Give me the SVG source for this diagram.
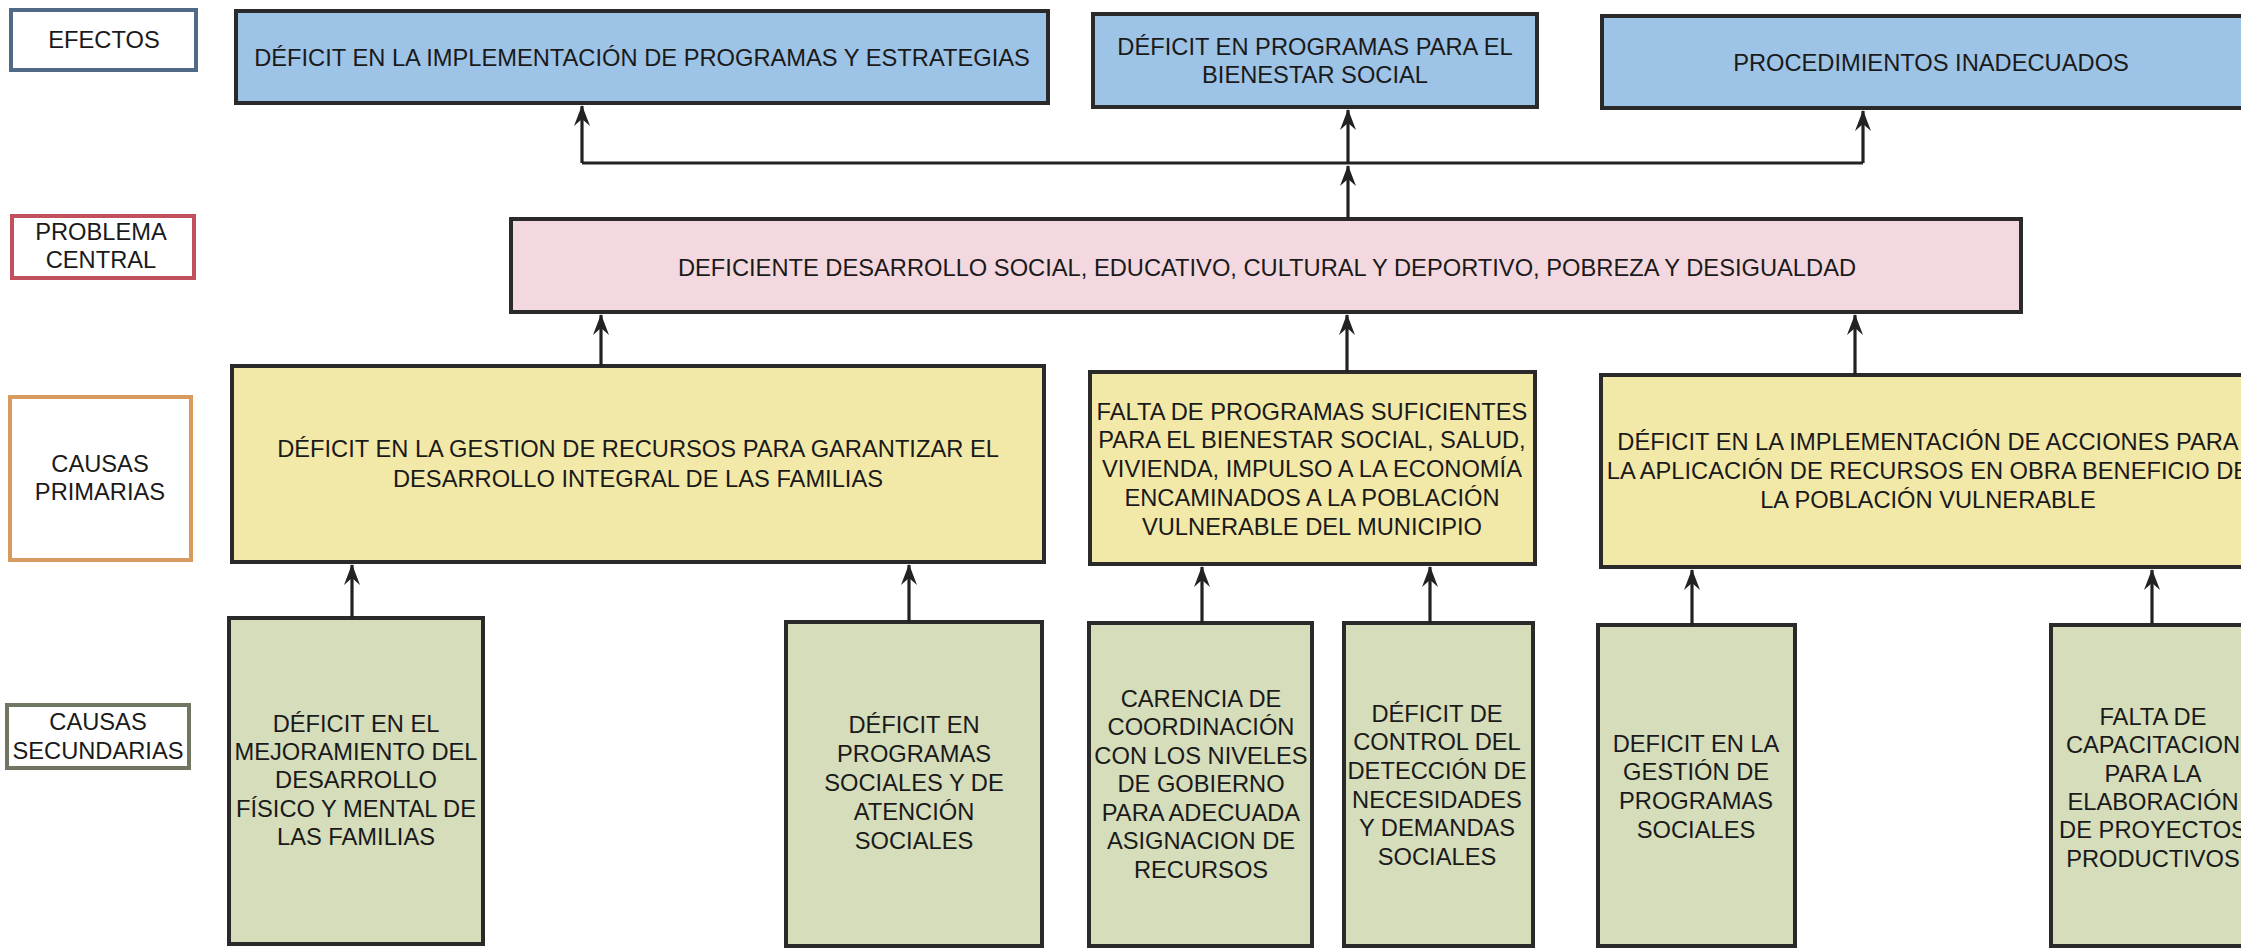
<svg xmlns="http://www.w3.org/2000/svg" width="2241" height="948" viewBox="0 0 2241 948">
<defs>
<style>
text{font-family:"Liberation Sans",Arial,sans-serif;font-size:23.7px;fill:#1a1a1a;text-anchor:middle}
.box{stroke:#2a2a2a;stroke-width:4}
.ef{fill:#9dc3e6}
.pc{fill:#f4d8df}
.pr{fill:#f2e9a9}
.se{fill:#d5ddba}
.lab{fill:#ffffff;stroke-width:4}
.conn{fill:none;stroke:#222;stroke-width:3.2}
</style>
<marker id="ah" markerUnits="userSpaceOnUse" viewBox="-24 -10 26 20" refX="0" refY="0" markerWidth="26" markerHeight="20" orient="auto">
<path d="M1,0 L-20,-8 L-13,0 L-20,8 Z" fill="#222"/>
</marker>
</defs>
<rect width="2241" height="948" fill="#ffffff"/>

<g id="label-efectos">
<rect class="lab" x="11" y="10" width="185" height="60" stroke="#4f6986"/>
<text x="104" y="48">EFECTOS</text>
</g>
<g id="label-problema">
<rect class="lab" x="12" y="216" width="182" height="62" stroke="#c24f5c"/>
<text x="101" y="240">PROBLEMA</text>
<text x="101" y="268">CENTRAL</text>
</g>
<g id="label-primarias">
<rect class="lab" x="10" y="397" width="181" height="163" stroke="#d89a5e"/>
<text x="100" y="472">CAUSAS</text>
<text x="100" y="500">PRIMARIAS</text>
</g>
<g id="label-secundarias">
<rect class="lab" x="7" y="705" width="182" height="63" stroke="#6f7662"/>
<text x="98" y="730">CAUSAS</text>
<text x="98" y="759">SECUNDARIAS</text>
</g>

<g id="efecto-1">
<rect class="box ef" x="236" y="11" width="812" height="92"/>
<text x="642" y="66">DÉFICIT EN LA IMPLEMENTACIÓN DE PROGRAMAS Y ESTRATEGIAS</text>
</g>
<g id="efecto-2">
<rect class="box ef" x="1093" y="14" width="444" height="93"/>
<text x="1315" y="55">DÉFICIT EN PROGRAMAS PARA EL</text>
<text x="1315" y="83">BIENESTAR SOCIAL</text>
</g>
<g id="efecto-3">
<rect class="box ef" x="1602" y="16" width="660" height="92"/>
<text x="1931" y="71">PROCEDIMIENTOS INADECUADOS</text>
</g>

<g id="problema-central">
<rect class="box pc" x="511" y="219" width="1510" height="93"/>
<text x="1267" y="276">DEFICIENTE DESARROLLO SOCIAL, EDUCATIVO, CULTURAL Y DEPORTIVO, POBREZA Y DESIGUALDAD</text>
</g>

<g id="causa-primaria-1">
<rect class="box pr" x="232" y="366" width="812" height="196"/>
<text x="638" y="457">DÉFICIT EN LA GESTION DE RECURSOS PARA GARANTIZAR EL</text>
<text x="638" y="487">DESARROLLO INTEGRAL DE LAS FAMILIAS</text>
</g>
<g id="causa-primaria-2">
<rect class="box pr" x="1090" y="372" width="445" height="192"/>
<text x="1312" y="420">FALTA DE PROGRAMAS SUFICIENTES</text>
<text x="1312" y="448">PARA EL BIENESTAR SOCIAL, SALUD,</text>
<text x="1312" y="477">VIVIENDA, IMPULSO A LA ECONOMÍA</text>
<text x="1312" y="506">ENCAMINADOS A LA POBLACIÓN</text>
<text x="1312" y="535">VULNERABLE DEL MUNICIPIO</text>
</g>
<g id="causa-primaria-3">
<rect class="box pr" x="1601" y="375" width="660" height="192"/>
<text x="1928" y="450">DÉFICIT EN LA IMPLEMENTACIÓN DE ACCIONES PARA</text>
<text x="1928" y="479">LA APLICACIÓN DE RECURSOS EN OBRA BENEFICIO DE</text>
<text x="1928" y="508">LA POBLACIÓN VULNERABLE</text>
</g>

<g id="causa-secundaria-1">
<rect class="box se" x="229" y="618" width="254" height="326"/>
<text x="356" y="732">DÉFICIT EN EL</text>
<text x="356" y="760">MEJORAMIENTO DEL</text>
<text x="356" y="788">DESARROLLO</text>
<text x="356" y="817">FÍSICO Y MENTAL DE</text>
<text x="356" y="845">LAS FAMILIAS</text>
</g>
<g id="causa-secundaria-2">
<rect class="box se" x="786" y="622" width="256" height="324"/>
<text x="914" y="733">DÉFICIT EN</text>
<text x="914" y="762">PROGRAMAS</text>
<text x="914" y="791">SOCIALES Y DE</text>
<text x="914" y="820">ATENCIÓN</text>
<text x="914" y="849">SOCIALES</text>
</g>
<g id="causa-secundaria-3">
<rect class="box se" x="1089" y="623" width="223" height="323"/>
<text x="1201" y="707">CARENCIA DE</text>
<text x="1201" y="735">COORDINACIÓN</text>
<text x="1201" y="764">CON LOS NIVELES</text>
<text x="1201" y="792">DE GOBIERNO</text>
<text x="1201" y="821">PARA ADECUADA</text>
<text x="1201" y="849">ASIGNACION DE</text>
<text x="1201" y="878">RECURSOS</text>
</g>
<g id="causa-secundaria-4">
<rect class="box se" x="1344" y="623" width="189" height="323"/>
<text x="1437" y="722">DÉFICIT DE</text>
<text x="1437" y="750">CONTROL DEL</text>
<text x="1437" y="779">DETECCIÓN DE</text>
<text x="1437" y="808">NECESIDADES</text>
<text x="1437" y="836">Y DEMANDAS</text>
<text x="1437" y="865">SOCIALES</text>
</g>
<g id="causa-secundaria-5">
<rect class="box se" x="1598" y="625" width="197" height="321"/>
<text x="1696" y="752">DEFICIT EN LA</text>
<text x="1696" y="780">GESTIÓN DE</text>
<text x="1696" y="809">PROGRAMAS</text>
<text x="1696" y="838">SOCIALES</text>
</g>
<g id="causa-secundaria-6">
<rect class="box se" x="2051" y="625" width="210" height="321"/>
<text x="2153" y="725">FALTA DE</text>
<text x="2153" y="753">CAPACITACION</text>
<text x="2153" y="782">PARA LA</text>
<text x="2153" y="810">ELABORACIÓN</text>
<text x="2153" y="838">DE PROYECTOS</text>
<text x="2153" y="867">PRODUCTIVOS</text>
</g>

<g id="connectors">
<path class="conn" d="M582,163 L1863,163"/>
<path class="conn" d="M1348,219 L1348,166" marker-end="url(#ah)"/>
<path class="conn" d="M582,163 L582,106" marker-end="url(#ah)"/>
<path class="conn" d="M1348,163 L1348,110" marker-end="url(#ah)"/>
<path class="conn" d="M1863,163 L1863,111" marker-end="url(#ah)"/>
<path class="conn" d="M601,366 L601,315" marker-end="url(#ah)"/>
<path class="conn" d="M1347,372 L1347,315" marker-end="url(#ah)"/>
<path class="conn" d="M1855,375 L1855,315" marker-end="url(#ah)"/>
<path class="conn" d="M352,618 L352,565" marker-end="url(#ah)"/>
<path class="conn" d="M909,622 L909,565" marker-end="url(#ah)"/>
<path class="conn" d="M1202,623 L1202,567" marker-end="url(#ah)"/>
<path class="conn" d="M1430,623 L1430,567" marker-end="url(#ah)"/>
<path class="conn" d="M1692,625 L1692,570" marker-end="url(#ah)"/>
<path class="conn" d="M2152,625 L2152,570" marker-end="url(#ah)"/>
</g>
</svg>
